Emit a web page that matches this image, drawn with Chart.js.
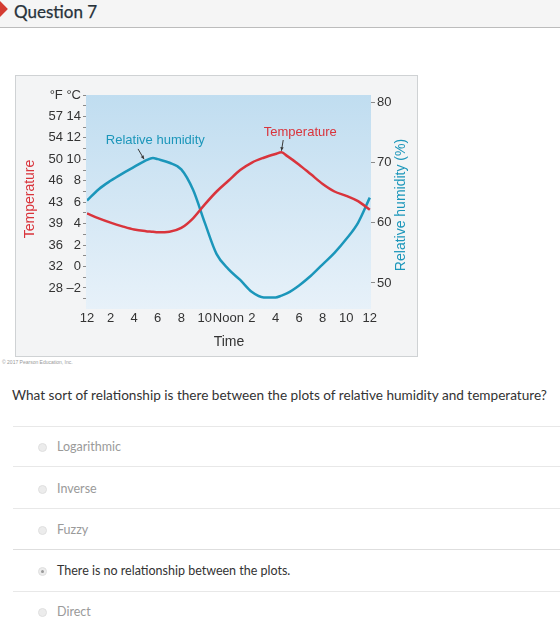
<!DOCTYPE html>
<html>
<head>
<meta charset="utf-8">
<script src="https://cdn.jsdelivr.net/npm/chart.js@4.4.0/dist/chart.umd.min.js"></script>
<style>
  body { margin: 0; width: 560px; height: 640px; overflow: hidden; background: #fff; font-family: Lato, "Open Sans", sans-serif; position: relative; }
  .hdr { position: absolute; left: 0; top: 0; width: 560px; height: 27px; background: #f5f5f5; border-bottom: 1px solid #bcbcbc; overflow: hidden; }
  .flag { position: absolute; left: -9px; top: 2px; width: 14px; height: 14px; background: #d43b31; transform: rotate(45deg); transform-origin: center; }
  .hdr span { position: absolute; left: 14px; top: 1px; font-size: 17px; line-height: 22px; color: #27323a; -webkit-text-stroke: 0.25px #27323a; }
  #fig { position: absolute; left: 15px; top: 75px; width: 401px; height: 280px; border: 1px solid #cfd2d4; background: #f3f4f5; }
  .copy { position: absolute; left: 2px; top: 359px; font-size: 5px; color: #999; font-family: "Liberation Sans", Arial, sans-serif; }
  .q { position: absolute; left: 12px; top: 386px; font-size: 13.6px; line-height: 18px; color: #333; white-space: nowrap; }
  .rule { position: absolute; left: 13px; width: 547px; height: 1px; background: #e8e8e8; }
  .opt { position: absolute; left: 57px; font-size: 12.5px; line-height: 16px; color: #9a9a9a; white-space: nowrap; }
  .opt.sel { color: #333; }
  .radio { position: absolute; left: 38px; width: 9px; height: 9px; border-radius: 50%; background: #ececec; border: 1px solid #e0e0e0; box-sizing: border-box; }
  .radio.sel::after { content: ""; position: absolute; left: 2px; top: 2px; width: 3px; height: 3px; border-radius: 50%; background: #999; }
</style>
</head>
<body>
<div class="hdr"><div class="flag"></div><span>Question 7</span></div>

<div id="fig"><canvas id="climaChart"></canvas></div>
<div class="copy">© 2017 Pearson Education, Inc.</div>

<div class="q">What sort of relationship is there between the plots of relative humidity and temperature?</div>
<div class="rule" style="top:426px"></div>
<div class="radio" style="top:443px"></div><div class="opt" style="top:439px">Logarithmic</div>
<div class="rule" style="top:466px"></div>
<div class="radio" style="top:485px"></div><div class="opt" style="top:481px">Inverse</div>
<div class="rule" style="top:508px"></div>
<div class="radio" style="top:526px"></div><div class="opt" style="top:522px">Fuzzy</div>
<div class="rule" style="top:549px; background:#dedede"></div>
<div class="radio sel" style="top:567px"></div><div class="opt sel" style="top:563px">There is no relationship between the plots.</div>
<div class="rule" style="top:591px"></div>
<div class="radio" style="top:608px"></div><div class="opt" style="top:604px">Direct</div>

<script>
// Horas do dia (0 = meia-noite, 12 = meio-dia, 24 = meia-noite seguinte)
const horas = [0, 1, 2, 3, 4, 5, 5.6, 6, 7, 8, 9, 10, 11, 12, 13, 14, 15, 16, 16.5, 17, 18, 19, 20, 21, 22, 23, 24];
// Temperatura em °C (eixo esquerdo)
const temperatura = [4.95, 4.5, 4.1, 3.75, 3.45, 3.3, 3.25, 3.2, 3.25, 3.6, 4.5, 5.8, 7.0, 8.0, 9.0, 9.7, 10.15, 10.5, 10.65, 10.3, 9.5, 8.6, 7.7, 7.0, 6.6, 6.1, 5.3];
// Umidade relativa em % (eixo direito)
const umidade = [63.7, 65.6, 67.0, 68.2, 69.3, 70.4, 70.8, 70.6, 70.0, 68.9, 65.5, 60.0, 54.8, 52.3, 50.5, 48.5, 47.6, 47.6, 47.9, 48.3, 49.6, 51.2, 53.1, 55.0, 57.3, 60.0, 64.2];

// Rótulos dos eixos
const celsiusTicks = [16, 14, 12, 10, 8, 6, 4, 2, 0, -2];
const fahrenheitTicks = ['°F', '57', '54', '50', '46', '43', '39', '36', '32', '28'];
const umidadeTicks = [50, 60, 70, 80];
const horaTicks = [0, 2, 4, 6, 8, 10, 12, 14, 16, 18, 20, 22, 24];
const horaLabels = ['12', '2', '4', '6', '8', '10', 'Noon', '2', '4', '6', '8', '10', '12'];

const RED = 'rgb(217, 52, 60)';
const TEAL = 'rgb(27, 150, 186)';
const FONT = '"Liberation Sans", Arial, Helvetica, sans-serif';

// Rótulo duplo °F / °C para o eixo esquerdo
function labelTemp(v) {
    const i = celsiusTicks.indexOf(v);
    if (i < 0) return '';
    let c = v === 16 ? '°C' : (v < 0 ? '\u2013' + (-v) : String(v));
    if (c.length === 1) c = '\u2007' + c;
    return fahrenheitTicks[i] + ' ' + c;
}

// Fundo em degradê, títulos e setas dos rótulos
const figuraPlugin = {
    id: 'figura',
    beforeDatasetsDraw(chart) {
        const { ctx, chartArea } = chart;
        const g = ctx.createLinearGradient(0, chartArea.top, 0, chartArea.bottom + 6);
        g.addColorStop(0, 'rgb(192, 221, 240)');
        g.addColorStop(1, 'rgb(231, 241, 249)');
        ctx.save();
        ctx.fillStyle = g;
        ctx.fillRect(chartArea.left - 1, chartArea.top, chartArea.right - chartArea.left + 1, chartArea.bottom - chartArea.top + 6);
        ctx.restore();
    },
    afterDraw(chart) {
        const { ctx } = chart;
        const x = chart.scales.x, yt = chart.scales.temp, yr = chart.scales.rh;
        ctx.save();
        ctx.font = '13px ' + FONT;
        ctx.textBaseline = 'middle';

        ctx.fillStyle = TEAL;
        ctx.textAlign = 'left';
        ctx.fillText('Relative humidity', x.getPixelForValue(1.6), yr.getPixelForValue(73.7));

        ctx.fillStyle = RED;
        ctx.textAlign = 'center';
        ctx.fillText('Temperature', x.getPixelForValue(18.1), yt.getPixelForValue(12.5));

        seta(ctx, x.getPixelForValue(4.33), yr.getPixelForValue(72.3), x.getPixelForValue(4.84), yr.getPixelForValue(70.6));
        seta(ctx, x.getPixelForValue(16.65), yt.getPixelForValue(11.8), x.getPixelForValue(16.5), yt.getPixelForValue(10.8));

        // título do eixo direito, lido de baixo para cima
        ctx.translate(yr.right - 16, (chart.chartArea.top + chart.chartArea.bottom) / 2 + 6);
        ctx.rotate(-Math.PI / 2);
        ctx.fillStyle = TEAL;
        ctx.font = '14px ' + FONT;
        ctx.textAlign = 'center';
        ctx.fillText('Relative humidity (%)', 0, 0);
        ctx.restore();
    }
};

function seta(ctx, x1, y1, x2, y2) {
    const a = Math.atan2(y2 - y1, x2 - x1);
    ctx.save();
    ctx.strokeStyle = '#3a3a3a';
    ctx.fillStyle = '#3a3a3a';
    ctx.lineWidth = 1;
    ctx.beginPath();
    ctx.moveTo(x1, y1);
    ctx.lineTo(x2, y2);
    ctx.stroke();
    ctx.beginPath();
    ctx.moveTo(x2, y2);
    ctx.lineTo(x2 - 4 * Math.cos(a - 0.45), y2 - 4 * Math.sin(a - 0.45));
    ctx.lineTo(x2 - 4 * Math.cos(a + 0.45), y2 - 4 * Math.sin(a + 0.45));
    ctx.closePath();
    ctx.fill();
    ctx.restore();
}

const ctx = document.getElementById('climaChart').getContext('2d');

new Chart(ctx, {
    type: 'line',
    data: {
        datasets: [
            {
                label: 'Temperature',
                data: horas.map((h, i) => ({ x: h, y: temperatura[i] })),
                yAxisID: 'temp',
                borderColor: RED,
                borderWidth: 2.5,
                pointRadius: 0,
                cubicInterpolationMode: 'monotone',
                fill: false
            },
            {
                label: 'Relative humidity',
                data: horas.map((h, i) => ({ x: h, y: umidade[i] })),
                yAxisID: 'rh',
                borderColor: TEAL,
                borderWidth: 2.5,
                pointRadius: 0,
                cubicInterpolationMode: 'monotone',
                fill: false
            }
        ]
    },
    options: {
        responsive: true,
        maintainAspectRatio: false,
        animation: false,
        layout: { padding: { top: 19, left: 0, right: 0, bottom: 0 } },
        plugins: { legend: { display: false }, tooltip: { enabled: false } },
        scales: {
            x: {
                type: 'linear',
                min: 0,
                max: 24.1,
                afterBuildTicks: scale => {
                    const ticks = horaTicks.map(v => ({ value: v }));
                    for (let m = 0.75; m < 24; m += 0.75) {
                        if (!horaTicks.includes(m)) ticks.push({ value: m, menor: true });
                    }
                    ticks.sort((a, b) => a.value - b.value);
                    scale.ticks = ticks;
                },
                afterFit: scale => { scale.height = 53; },
                border: { display: false },
                grid: {
                    drawOnChartArea: false,
                    tickLength: 5,
                    tickColor: c => (c.tick && c.tick.menor) || (c.tick && c.tick.value % 6 === 0 && c.tick.value > 0 && c.tick.value < 24) ? '#8a8a8a' : 'rgba(0,0,0,0)'
                },
                ticks: {
                    autoSkip: false,
                    maxRotation: 0,
                    padding: 3,
                    color: '#333',
                    font: { family: FONT, size: 13 },
                    callback: v => {
                        const i = horaTicks.indexOf(v);
                        return i < 0 ? '' : horaLabels[i];
                    }
                },
                title: {
                    display: true,
                    text: 'Time',
                    color: '#333',
                    font: { family: FONT, size: 14 },
                    padding: { top: 0, bottom: 5 }
                }
            },
            temp: {
                position: 'left',
                min: -3.4,
                max: 16,
                afterBuildTicks: scale => {
                    const ticks = [];
                    for (let v = -3; v <= 16; v++) ticks.push({ value: v });
                    scale.ticks = ticks;
                },
                afterFit: scale => { scale.width = 71; },
                border: { display: false },
                grid: { drawOnChartArea: false, tickLength: 4, tickColor: '#8a8a8a' },
                ticks: {
                    autoSkip: false,
                    padding: 2,
                    color: '#333',
                    font: { family: FONT, size: 13 },
                    callback: v => labelTemp(v)
                },
                title: {
                    display: true,
                    text: 'Temperature',
                    color: RED,
                    font: { family: FONT, size: 14 },
                    padding: { top: 6, bottom: 0 }
                }
            },
            rh: {
                position: 'right',
                min: 46.67,
                max: 81.27,
                afterBuildTicks: scale => { scale.ticks = umidadeTicks.map(v => ({ value: v })); },
                afterFit: scale => { scale.width = 46; },
                border: { display: false },
                grid: { drawOnChartArea: false, tickLength: 4, tickColor: '#8a8a8a' },
                ticks: {
                    autoSkip: false,
                    padding: 2,
                    color: '#333',
                    font: { family: FONT, size: 13 }
                }
            }
        }
    },
    plugins: [figuraPlugin]
});
</script>
</body>
</html>
